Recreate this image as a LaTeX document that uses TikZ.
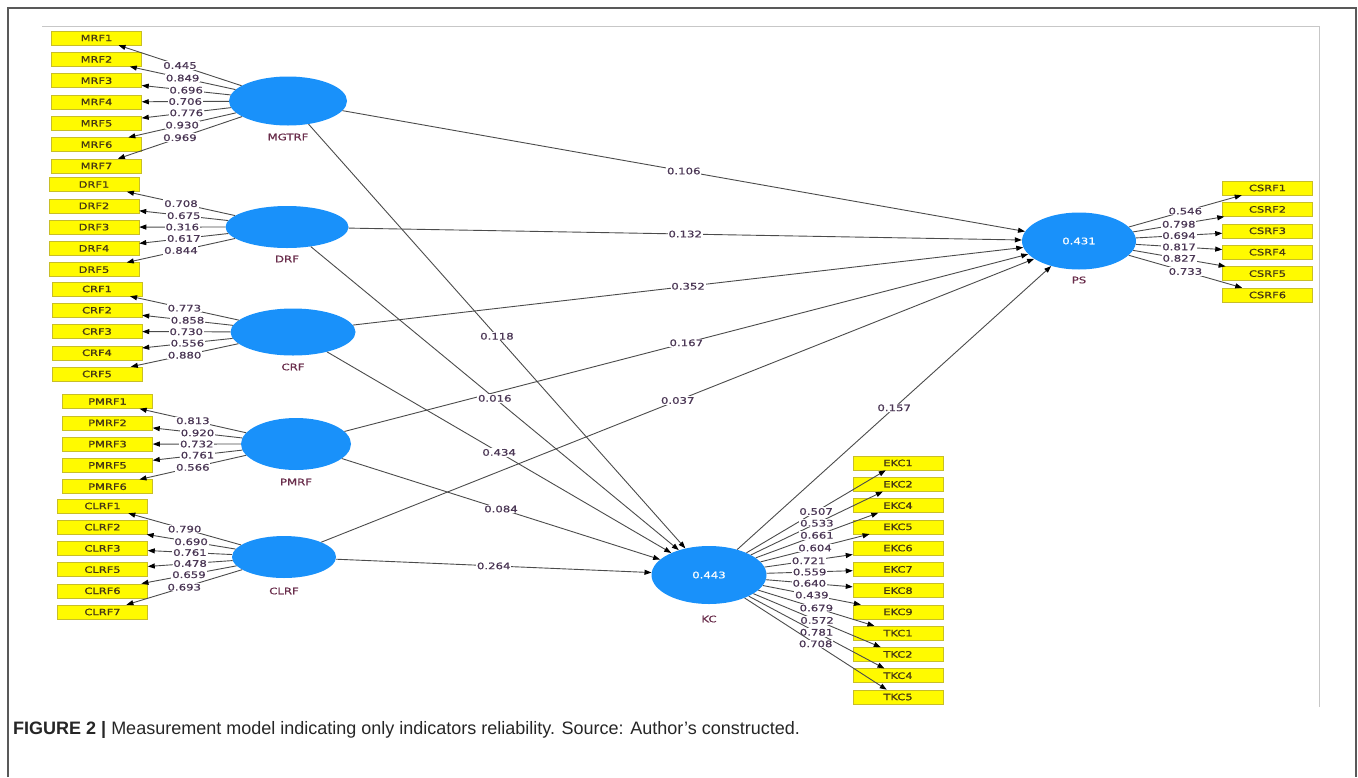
\documentclass[tikz,border=0pt]{standalone}
\usepackage{fontspec}
\setmainfont{Liberation Sans}
\newfontfamily\dfont[FakeStretch=1.3,FakeBold=0.8]{DejaVu Sans}
\usetikzlibrary{shapes.geometric,arrows.meta}
\definecolor{lvblue}{RGB}{25,145,250}
\definecolor{boxyel}{RGB}{255,250,0}
\definecolor{boxedge}{RGB}{200,190,40}
\definecolor{boxtxt}{RGB}{70,55,20}
\definecolor{valtxt}{RGB}{75,55,85}
\definecolor{lvtxt}{RGB}{105,45,75}
\definecolor{linegray}{RGB}{75,75,75}
\begin{document}
\begin{tikzpicture}[x=1pt,y=-1pt,
  lv/.style={ellipse,fill=lvblue,draw=none,inner sep=0pt,text=white,font=\dfont\fontsize{9}{10}\selectfont},
  lvlabel/.style={text=lvtxt,inner sep=0pt,font=\dfont\fontsize{9}{10}\selectfont},
  indbox/.style={rectangle,fill=boxyel,draw=boxedge,line width=0.5pt,minimum width=90pt,minimum height=14pt,inner sep=0pt,text=boxtxt,font=\dfont\fontsize{8.8}{10}\selectfont},
  ind/.style={draw=linegray,line width=0.9pt,-{Triangle[length=7pt,width=5pt,color=black]}},
  val/.style={fill=white,inner sep=0.8pt,text=valtxt,font=\dfont\fontsize{9}{10}\selectfont}
]
\useasboundingbox (0,0) rectangle (1358,777);
% frames
\draw[draw=black!65,line width=1.2pt] (8,777) -- (8,8) -- (1356,8) -- (1356,777);
\draw[draw=black!22,line width=1pt] (42,26) -- (1319,26) -- (1319,707);

% latent variables
\node[lv,minimum width=118pt,minimum height=49pt] (MGTRF) at (288,101) {};
\node[lv,minimum width=123pt,minimum height=42pt] (DRF) at (287,227) {};
\node[lv,minimum width=125pt,minimum height=47pt] (CRF) at (293,332) {};
\node[lv,minimum width=110pt,minimum height=52pt] (PMRF) at (296,444) {};
\node[lv,minimum width=104pt,minimum height=42pt] (CLRF) at (284,557) {};
\node[lv,minimum width=114pt,minimum height=57pt] (PS) at (1079,241) {0.431};
\node[lv,minimum width=115pt,minimum height=58pt] (KC) at (709,575) {0.443};

\node[lvlabel] (MGTRFl) at (288,137) {MGTRF};
\node[lvlabel] (DRFl) at (287,259) {DRF};
\node[lvlabel] (CRFl) at (293,367) {CRF};
\node[lvlabel] (PMRFl) at (296,482) {PMRF};
\node[lvlabel] (CLRFl) at (284,591) {CLRF};
\node[lvlabel] (PSl) at (1079,280) {PS};
\node[lvlabel] (KCl) at (709,619) {KC};

% indicator boxes
\foreach \n [count=\i] in {MRF1,MRF2,MRF3,MRF4,MRF5,MRF6,MRF7}
  \node[indbox] (\n) at (96.5,{38+(\i-1)*21.33}) {\n};
\foreach \n [count=\i] in {DRF1,DRF2,DRF3,DRF4,DRF5}
  \node[indbox] (\n) at (94,{184.5+(\i-1)*21.3}) {\n};
\foreach \n [count=\i] in {CRF1,CRF2,CRF3,CRF4,CRF5}
  \node[indbox] (\n) at (97,{289+(\i-1)*21.25}) {\n};
\foreach \n [count=\i] in {PMRF1,PMRF2,PMRF3,PMRF5,PMRF6}
  \node[indbox] (\n) at (107.5,{401.5+(\i-1)*21.3}) {\n};
\foreach \n [count=\i] in {CLRF1,CLRF2,CLRF3,CLRF5,CLRF6,CLRF7}
  \node[indbox] (\n) at (102.5,{506+(\i-1)*21.2}) {\n};
\foreach \n [count=\i] in {CSRF1,CSRF2,CSRF3,CSRF4,CSRF5,CSRF6}
  \node[indbox] (\n) at (1267.5,{188+(\i-1)*21.4}) {\n};
\foreach \n [count=\i] in {EKC1,EKC2,EKC4,EKC5,EKC6,EKC7,EKC8,EKC9,TKC1,TKC2,TKC4,TKC5}
  \node[indbox] (\n) at (898,{463+(\i-1)*21.27}) {\n};

% outer loadings
\foreach \n/\v in {MRF1/0.445,MRF2/0.849,MRF3/0.696,MRF4/0.706,MRF5/0.776,MRF6/0.930,MRF7/0.969}
  \draw[ind] (MGTRF) -- node[val]{\v} (\n);
\foreach \n/\v in {DRF1/0.708,DRF2/0.675,DRF3/0.316,DRF4/0.617,DRF5/0.844}
  \draw[ind] (DRF) -- node[val]{\v} (\n);
\foreach \n/\v in {CRF1/0.773,CRF2/0.858,CRF3/0.730,CRF4/0.556,CRF5/0.880}
  \draw[ind] (CRF) -- node[val]{\v} (\n);
\foreach \n/\v in {PMRF1/0.813,PMRF2/0.920,PMRF3/0.732,PMRF5/0.761,PMRF6/0.566}
  \draw[ind] (PMRF) -- node[val]{\v} (\n);
\foreach \n/\v in {CLRF1/0.790,CLRF2/0.690,CLRF3/0.761,CLRF5/0.478,CLRF6/0.659,CLRF7/0.693}
  \draw[ind] (CLRF) -- node[val]{\v} (\n);
\foreach \n/\v in {CSRF1/0.546,CSRF2/0.798,CSRF3/0.694,CSRF4/0.817,CSRF5/0.827,CSRF6/0.733}
  \draw[ind] (PS) -- node[val]{\v} (\n);
\foreach \n/\v in {EKC1/0.507,EKC2/0.533,EKC4/0.661,EKC5/0.604,EKC6/0.721,EKC7/0.559,EKC8/0.640,EKC9/0.439,TKC1/0.679,TKC2/0.572,TKC4/0.781,TKC5/0.708}
  \draw[ind] (KC) -- node[val]{\v} (\n);

% structural paths
\draw[ind] (MGTRF) -- node[val]{0.106} (PS);
\draw[ind] (DRF) -- node[val]{0.132} (PS);
\draw[ind] (CRF) -- node[val]{0.352} (PS);
\draw[ind] (PMRF) -- node[val]{0.167} (PS);
\draw[ind] (CLRF) -- node[val]{0.037} (PS);
\draw[ind] (MGTRF) -- node[val]{0.118} (KC);
\draw[ind] (DRF) -- node[val]{0.016} (KC);
\draw[ind] (CRF) -- node[val]{0.434} (KC);
\draw[ind] (PMRF) -- node[val]{0.084} (KC);
\draw[ind] (CLRF) -- node[val]{0.264} (KC);
\draw[ind] (KC) -- node[val]{0.157} (PS);

% caption
\node[anchor=base west,inner sep=0pt,text=black!85,font=\fontsize{18}{20}\selectfont] (cap) at (13,734)
  {\textbf{FIGURE 2 |} Measurement model indicating only indicators reliability. Source: Author’s constructed.};
\end{tikzpicture}
\end{document}
